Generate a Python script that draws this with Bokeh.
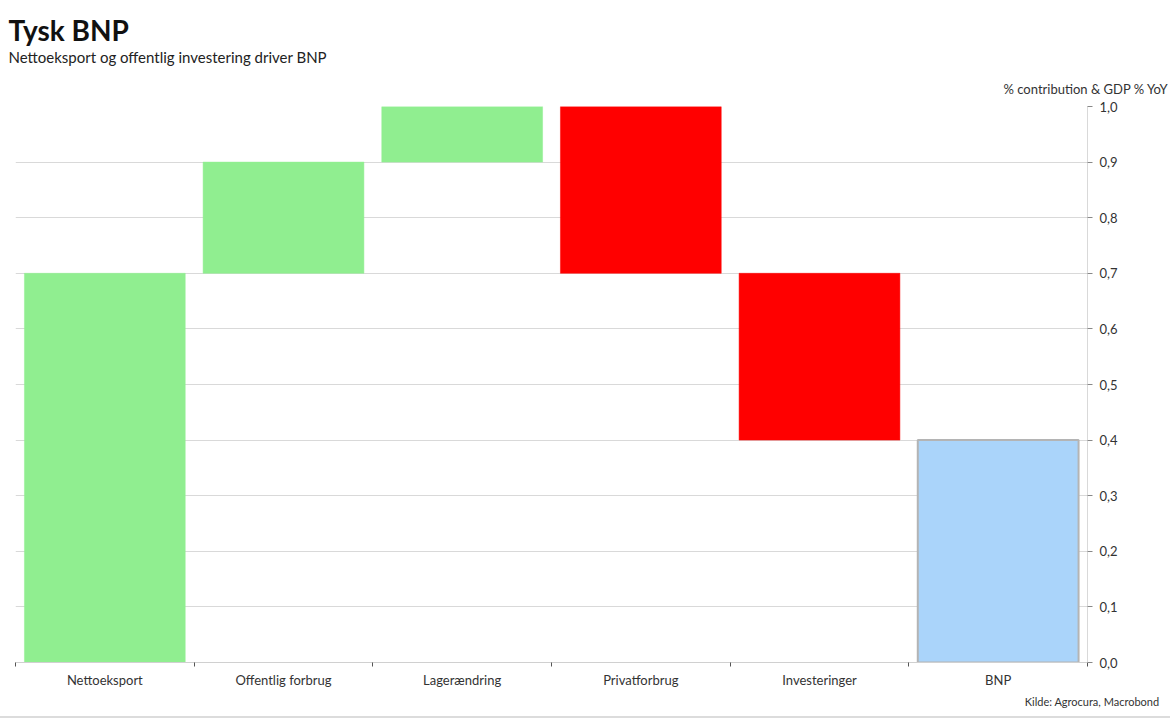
from bokeh.plotting import figure
from bokeh.models import Title, FixedTicker, CustomJSTickFormatter, Range1d, ColumnDataSource
from bokeh.embed import file_html
from bokeh.resources import INLINE

# ---- data ----
categories = ["Nettoeksport", "Offentlig forbrug", "Lagerændring", "Privatforbrug", "Investeringer", "BNP"]
changes = [0.7, 0.2, 0.1, -0.3, -0.3]
total_value = 0.4
y_ticks = [0.0, 0.1, 0.2, 0.3, 0.4, 0.5, 0.6, 0.7, 0.8, 0.9, 1.0]

title_text = "Tysk BNP"
subtitle_text = "Nettoeksport og offentlig investering driver BNP"
axis_title_text = "% contribution & GDP % YoY"
source_text = "Kilde: Agrocura, Macrobond"

# ---- styling ----
FONT = "Lato"
POS_COLOR = "#90ee90"
NEG_COLOR = "#ff0000"
TOT_COLOR = "#aad4fa"

W, H = 1170, 718
ML, MR, MT, MB = 15, 83, 106, 56
NCAT = len(categories)

# waterfall computation
xs, bottoms, tops, colors, lcolors, lwidths = [], [], [], [], [], []
running = 0.0
for i, c in enumerate(changes):
    start = running
    running = running + c
    xs.append(i + 0.5)
    bottoms.append(min(start, running))
    tops.append(max(start, running))
    colors.append(POS_COLOR if c >= 0 else NEG_COLOR)
    lcolors.append(POS_COLOR if c >= 0 else NEG_COLOR)
    lwidths.append(0.5)
xs.append(len(changes) + 0.5)
bottoms.append(0.0)
tops.append(total_value)
colors.append(TOT_COLOR)
lcolors.append("#b4b4b4")
lwidths.append(2)

src = ColumnDataSource(dict(x=xs, bottom=bottoms, top=tops, color=colors, lc=lcolors, lw=lwidths))

p = figure(width=W, height=H, output_backend="svg", toolbar_location=None,
           x_range=Range1d(0, NCAT), y_range=Range1d(0, 1.0),
           y_axis_location="right", title=None,
           min_border_left=ML, min_border_right=MR, min_border_top=MT, min_border_bottom=MB)
p.outline_line_color = None
p.background_fill_color = "white"
p.border_fill_color = "white"
p.styles = {"border-bottom": "2px solid #dcdcdc"}

p.vbar(x="x", width=0.9, bottom="bottom", top="top", fill_color="color",
       line_color="lc", line_width="lw", source=src)

# grid
p.xgrid.visible = False
p.ygrid.ticker = FixedTicker(ticks=y_ticks)
p.ygrid.grid_line_color = "#d9d9d9"
p.ygrid.grid_line_width = 1

# y axis (right)
ya = p.yaxis[0]
ya.ticker = FixedTicker(ticks=y_ticks)
ya.formatter = CustomJSTickFormatter(code="return tick.toFixed(1).replace('.', ',');")
ya.axis_line_color = "#d9d9d9"
ya.major_tick_line_color = "#888888"
ya.major_tick_out = 5
ya.major_tick_in = 0
ya.minor_tick_line_color = None
ya.major_label_standoff = 7
ya.major_label_text_font = FONT
ya.major_label_text_font_size = "13px"
ya.major_label_text_color = "#333333"

# x axis
xa = p.xaxis[0]
xa.ticker = FixedTicker(ticks=[i + 0.5 for i in range(NCAT)],
                        minor_ticks=[i for i in range(NCAT + 1)])
xa.formatter = CustomJSTickFormatter(args=dict(labels=categories),
                                     code="return labels[Math.floor(tick)];")
xa.axis_line_color = "#d0d0d0"
xa.major_tick_line_color = None
xa.major_tick_out = 0
xa.major_tick_in = 0
xa.minor_tick_line_color = "#555555"
xa.minor_tick_out = 4
xa.minor_tick_in = 0
xa.major_label_standoff = 5
xa.major_label_text_font = FONT
xa.major_label_text_font_size = "13px"
xa.major_label_text_color = "#333333"

# titles: stacked outward from the frame (first added is closest)
p.add_layout(Title(text=axis_title_text, align="right", offset=-81, standoff=20,
                   text_font=FONT, text_font_size="13px", text_font_style="normal",
                   text_color="#333333"), "above")
p.add_layout(Title(text=subtitle_text, align="left", offset=-7, standoff=5,
                   text_font=FONT, text_font_size="15px", text_font_style="normal",
                   text_color="#222222"), "above")
p.add_layout(Title(text=title_text, align="left", offset=-7, standoff=-6,
                   text_font=FONT, text_font_size="28px", text_font_style="bold",
                   text_color="#111111"), "above")
p.add_layout(Title(text=source_text, align="right", offset=-72, standoff=4,
                   text_font=FONT, text_font_size="11px", text_font_style="normal",
                   text_color="#333333"), "below")

open("out.html", "w").write(file_html(p, INLINE))
